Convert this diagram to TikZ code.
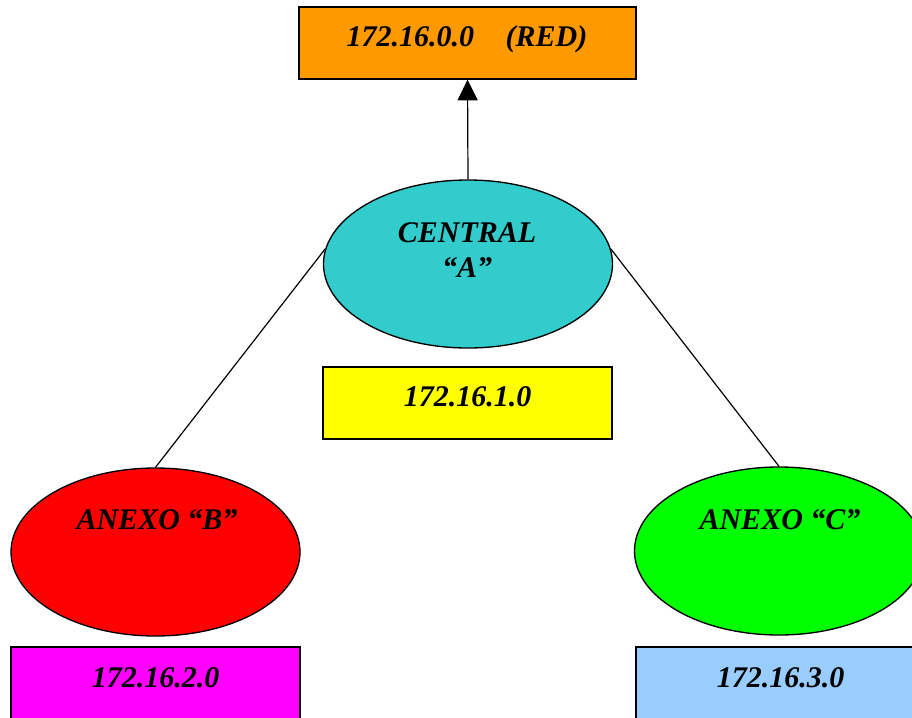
\documentclass[tikz,border=0pt]{standalone}
\usepackage{fontspec}
\setmainfont{Liberation Serif}
\usetikzlibrary{shapes.geometric,arrows.meta}
\definecolor{cOrange}{HTML}{FF9900}
\definecolor{cTeal}{HTML}{33CCCC}
\definecolor{cYellow}{HTML}{FFFF00}
\definecolor{cRed}{HTML}{FF0000}
\definecolor{cGreen}{HTML}{00FF00}
\definecolor{cMagenta}{HTML}{FF00FF}
\definecolor{cBlue}{HTML}{99CCFF}
\tikzset{
  netbox/.style={draw=black, line width=1pt, minimum width=216.75pt, minimum height=54pt, inner sep=0pt},
  site/.style={ellipse, draw=black, line width=1pt, minimum width=216.75pt, minimum height=126pt, inner sep=0pt},
  lbl/.style={anchor=base, inner sep=0pt, font=\fontsize{22.5}{26}\selectfont\bfseries\itshape},
  link/.style={line width=0.9pt}
}
\begin{document}
\begin{tikzpicture}[x=0.75pt,y=-0.75pt]
\useasboundingbox (0,0) rectangle (912,717);
\clip (0,0) rectangle (912,717);
% boxes
\node[netbox, fill=cOrange, minimum width=252.75pt] (red) at (467.5,43) {};
\node[netbox, fill=cYellow] (netA) at (467.5,403) {};
\node[netbox, fill=cMagenta] (netB) at (155.5,683) {};
\node[netbox, fill=cBlue] (netC) at (780.5,683) {};
% ellipses
\node[site, fill=cTeal] (central) at (468,264) {};
\node[site, fill=cRed] (anexob) at (155.5,552) {};
\node[site, fill=cGreen] (anexoc) at (779,551) {};
% connectors
\draw[link, -{Triangle[width=15pt,length=15.5pt]}] (central.north) -- (red.south);
\draw[link] (central.174) -- (anexob.north);
\draw[link] (central.6) -- (anexoc.north);
% texts
\node[lbl] (tred) at (467,46) {172.16.0.0\hspace{1.05em}(RED)};
\node[lbl] (tcen1) at (467,242) {CENTRAL};
\node[lbl] (tcen2) at (467,277) {“A”};
\node[lbl] (tnetA) at (467.5,406) {172.16.1.0};
\node[lbl] (tb) at (157,529) {ANEXO “B”};
\node[lbl] (tc) at (780,529) {ANEXO “C”};
\node[lbl] (tnetB) at (155.5,687) {172.16.2.0};
\node[lbl] (tnetC) at (780.5,687) {172.16.3.0};
\end{tikzpicture}
\end{document}
